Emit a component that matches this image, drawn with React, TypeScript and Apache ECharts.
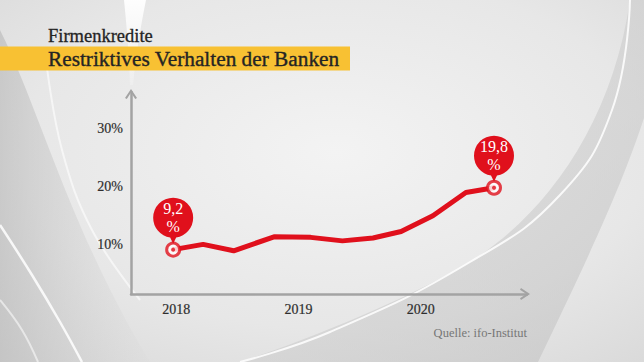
import React, { useEffect, useRef } from "react";
import * as echarts from "echarts";

// ---- data ----
const periods: number[] = [2017.975, 2018.22, 2018.47, 2018.8, 2019.1, 2019.36, 2019.61, 2019.84, 2020.1, 2020.37, 2020.6];
const shares: number[] = [9.2, 10.1, 9.0, 11.4, 11.3, 10.7, 11.2, 12.3, 15.0, 19.0, 19.8];
const yearTicks: number[] = [2018, 2019, 2020];
const percentTicks: number[] = [10, 20, 30];
const calloutLabels: string[] = ["9,2\n%", "19,8\n%"];

const subtitle = "Firmenkredite";
const title = "Restriktives Verhalten der Banken";
const source = "Quelle: ifo-Institut";

const RED = "#e0101c";
const AXIS = "#a3a3a3";
const FONT = "'Liberation Serif', 'DejaVu Serif', serif";

const calloutPath =
  "path://M20,0 A20,20 0 0 1 40,20 A20,20 0 0 1 23,39.77 L20,46 L17,39.77 A20,20 0 0 1 0,20 A20,20 0 0 1 20,0 Z";
const chevronUp = "path://M0,9 L6,0 L12,9 L10.2,10 L6,3.6 L1.8,10 Z";

// decorative background shapes
const bandPath =
  "M630,0 L644,0 L644,118 C622,185 592,250 538,362 L240,362 C330,332 420,292 470,262 C545,215 612,125 630,0 Z";
const leftShade = "M0,30 C40,110 70,230 150,362 L0,362 Z";
const topStreak = "M124,0 L146,0 C140,30 136,55 133,85 L130,85 C129,55 127,30 124,0 Z";

echarts.graphic.registerShape("bgBand", echarts.graphic.extendPath(bandPath, {}));
echarts.graphic.registerShape("bgLeft", echarts.graphic.extendPath(leftShade, {}));
echarts.graphic.registerShape("bgStreak", echarts.graphic.extendPath(topStreak, {}));

export default function App() {
  const ref = useRef<HTMLDivElement>(null);

  useEffect(() => {
    if (!ref.current) return;
    const chart = echarts.init(ref.current, null, { renderer: "svg" });

    const points = periods.map((p, i) => [p, shares[i]]);
    const last = points.length - 1;
    const endpoints = [points[0], points[last]];

    const bg: any[] = [
      {
        type: "rect",
        z: -100,
        silent: true,
        shape: { x: 0, y: 0, width: 644, height: 362 },
        style: {
          fill: new echarts.graphic.RadialGradient(0.52, 0.42, 0.75, [
            { offset: 0, color: "#f3f3f3" },
            { offset: 0.65, color: "#e7e7e7" },
            { offset: 1, color: "#dadada" },
          ]),
        },
      },
      {
        type: "bgLeft",
        z: -99,
        silent: true,
        x: 0,
        y: 0,
        style: {
          fill: new echarts.graphic.LinearGradient(0, 0, 1, 0, [
            { offset: 0, color: "rgba(180,180,180,0.55)" },
            { offset: 1, color: "rgba(200,200,200,0.05)" },
          ]),
        },
      },
      {
        type: "bgBand",
        z: -99,
        silent: true,
        x: 0,
        y: 0,
        style: {
          fill: new echarts.graphic.LinearGradient(0, 0, 1, 1, [
            { offset: 0, color: "rgba(205,205,205,0.35)" },
            { offset: 1, color: "rgba(190,190,190,0.55)" },
          ]),
        },
      },
      {
        type: "polyline",
        z: -98,
        silent: true,
        shape: { points: [[630, 0], [612, 110], [560, 195], [470, 262], [330, 332], [240, 362]], smooth: 0.45 },
        style: { stroke: "rgba(255,255,255,0.85)", lineWidth: 2, fill: "none" },
      },
      {
        type: "bgStreak",
        z: -98,
        silent: true,
        x: 0,
        y: 0,
        style: {
          fill: new echarts.graphic.LinearGradient(0, 0, 0, 1, [
            { offset: 0, color: "rgba(255,255,255,0.95)" },
            { offset: 1, color: "rgba(255,255,255,0.2)" },
          ]),
        },
      },
      {
        type: "polyline",
        z: -98,
        silent: true,
        shape: { points: [[46, 60], [62, 150], [92, 230], [140, 300]], smooth: 0.4 },
        style: { stroke: "rgba(255,255,255,0.6)", lineWidth: 2, fill: "none" },
      },
      {
        type: "polyline",
        z: -98,
        silent: true,
        shape: { points: [[0, 225], [32, 275], [60, 322], [82, 362]], smooth: 0.4 },
        style: { stroke: "rgba(255,255,255,0.85)", lineWidth: 2.5, fill: "none" },
      },
      {
        type: "polyline",
        z: -98,
        silent: true,
        shape: { points: [[0, 300], [22, 330], [38, 362]], smooth: 0.4 },
        style: { stroke: "rgba(255,255,255,0.55)", lineWidth: 2, fill: "none" },
      },
      // title block
      {
        type: "rect",
        silent: true,
        shape: { x: 0, y: 46.5, width: 350, height: 24 },
        style: { fill: "#f8c133" },
      },
      {
        type: "text",
        silent: true,
        x: 48,
        y: 36,
        style: {
          text: subtitle,
          font: `18.5px ${FONT}`,
          fill: "#242424",
          stroke: "#242424",
          lineWidth: 0.3,
          verticalAlign: "middle",
        },
      },
      {
        type: "text",
        silent: true,
        x: 48,
        y: 59,
        style: {
          text: title,
          font: `21.3px ${FONT}`,
          fill: "#242424",
          stroke: "#242424",
          lineWidth: 0.35,
          verticalAlign: "middle",
        },
      },
      {
        type: "text",
        silent: true,
        x: 527,
        y: 333,
        style: {
          text: source,
          font: `12.5px ${FONT}`,
          fill: "#777777",
          align: "right",
          verticalAlign: "middle",
        },
      },
    ];

    const labelStyle = {
      color: "#2e2e2e",
      fontFamily: FONT,
      fontSize: 14,
      margin: 8,
      textBorderColor: "#2e2e2e",
      textBorderWidth: 0.2,
    };

    chart.setOption({
      animation: false,
      graphic: bg,
      grid: { left: 131, right: 117, top: 92, bottom: 68, containLabel: false },
      xAxis: {
        type: "value",
        min: 2017.63,
        max: 2020.87,
        splitLine: { show: false },
        axisTick: { show: false },
        axisLine: {
          show: true,
          onZero: false,
          symbol: ["none", chevronUp],
          symbolSize: [12, 10],
          symbolOffset: [0, -2],
          lineStyle: { color: AXIS, width: 2.5 },
        },
        axisLabel: {
          ...labelStyle,
          customValues: yearTicks,
          formatter: (v: number) => String(Math.round(v)),
        },
      },
      yAxis: {
        type: "value",
        min: 1.6,
        max: 36.2,
        splitLine: { show: false },
        axisTick: { show: false },
        axisLine: {
          show: true,
          onZero: false,
          symbol: ["none", chevronUp],
          symbolSize: [12, 10],
          symbolOffset: [0, -2],
          lineStyle: { color: AXIS, width: 2.5 },
        },
        axisLabel: {
          ...labelStyle,
          customValues: percentTicks,
          formatter: (v: number) => `${Math.round(v)}%`,
        },
      },
      series: [
        {
          type: "line",
          data: points,
          symbol: "none",
          lineStyle: { color: RED, width: 5, join: "round", cap: "round" },
          z: 3,
        },
        {
          type: "scatter",
          data: endpoints,
          symbol: "circle",
          symbolSize: 13,
          itemStyle: { color: "#ffffff", borderColor: RED, borderWidth: 3 },
          z: 4,
          markPoint: {
            symbol: calloutPath,
            symbolSize: [40, 46],
            symbolOffset: [0, -29],
            itemStyle: { color: RED },
            label: {
              show: true,
              position: "inside",
              offset: [0, -3],
              color: "#ffffff",
              fontFamily: FONT,
              fontSize: 16,
              lineHeight: 18.5,
              formatter: (p: any) => p.name,
            },
            data: endpoints.map((pt, i) => ({ coord: pt, name: calloutLabels[i] })),
          },
        },
        {
          type: "scatter",
          data: endpoints,
          symbol: "circle",
          symbolSize: 4,
          itemStyle: { color: RED },
          z: 5,
        },
      ],
    });

    return () => chart.dispose();
  }, []);

  return <div ref={ref} style={{ width: 644, height: 362, position: "absolute", left: 0, top: 0 }} />;
}
